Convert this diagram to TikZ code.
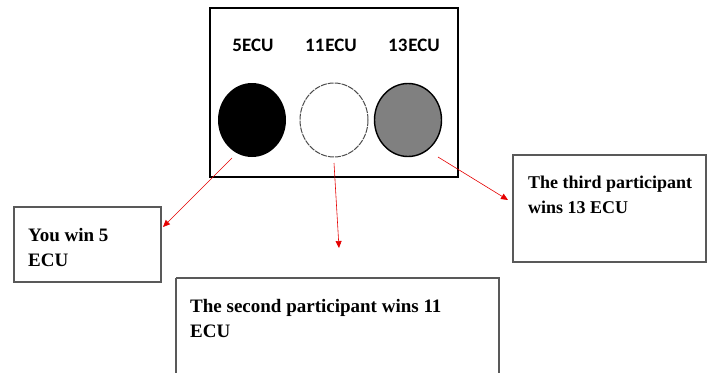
\documentclass[tikz,border=0pt]{standalone}
\usepackage{fontspec}
\setmainfont{Liberation Serif}
\newfontfamily\calib{Carlito}
\usetikzlibrary{arrows.meta}
\begin{document}
\begin{tikzpicture}[x=1pt,y=-1pt,
  outer/.style={draw=black,line width=2.6pt},
  answer/.style={draw=black!65,line width=1.3pt},
  boxtext/.style={anchor=base west,inner sep=0pt,font=\fontsize{19}{25}\selectfont\bfseries,align=left},
  valtext/.style={anchor=base,inner sep=0pt,font=\calib\fontsize{19}{19}\selectfont\bfseries},
  link/.style={draw=red!90!black,line width=0.6pt,-{Triangle[length=7pt,width=6pt]}}]
\useasboundingbox (0,0) rectangle (708,372);
% main panel
\draw[outer] (210,8) rectangle (458,177);
\node[valtext] (v5) at (253,51) {5ECU};
\node[valtext] (v11) at (331,51) {11\hspace{1pt}ECU};
\node[valtext] (v13) at (414,51) {13\hspace{1pt}ECU};
\fill[black] (252,120) ellipse [x radius=34, y radius=37];
\draw[black!70,line width=1pt,dash pattern=on 6pt off 1pt] (334,120) ellipse [x radius=34, y radius=37];
\draw[fill=black!50,line width=1.4pt] (408,120) ellipse [x radius=33.5, y radius=36.5];
% answer boxes (anchor = baseline of the last line)
\draw[answer] (14,207) rectangle (161,282);
\node[boxtext] (t1) at (28,266) {You win 5\\ECU};
\draw[answer] (176,278) -- (499,278) -- (499,380) (176,380) -- (176,278);
\node[boxtext] (t2) at (190,337) {The second participant wins 11\\ECU};
\draw[answer] (513,155) rectangle (706,262);
\node[boxtext,font=\fontsize{18}{25}\selectfont\bfseries] (t3) at (528,213) {The third participant\\wins 13 ECU};
% connectors
\coordinate (s1) at (232,158);
\coordinate (e1) at (163,227);
\coordinate (s2) at (334,163);
\coordinate (e2) at (339,248);
\coordinate (s3) at (438,157);
\coordinate (e3) at (508,200);
\draw[link] (s1) -- (e1);
\draw[link] (s2) -- (e2);
\draw[link] (s3) -- (e3);
\end{tikzpicture}
\end{document}
